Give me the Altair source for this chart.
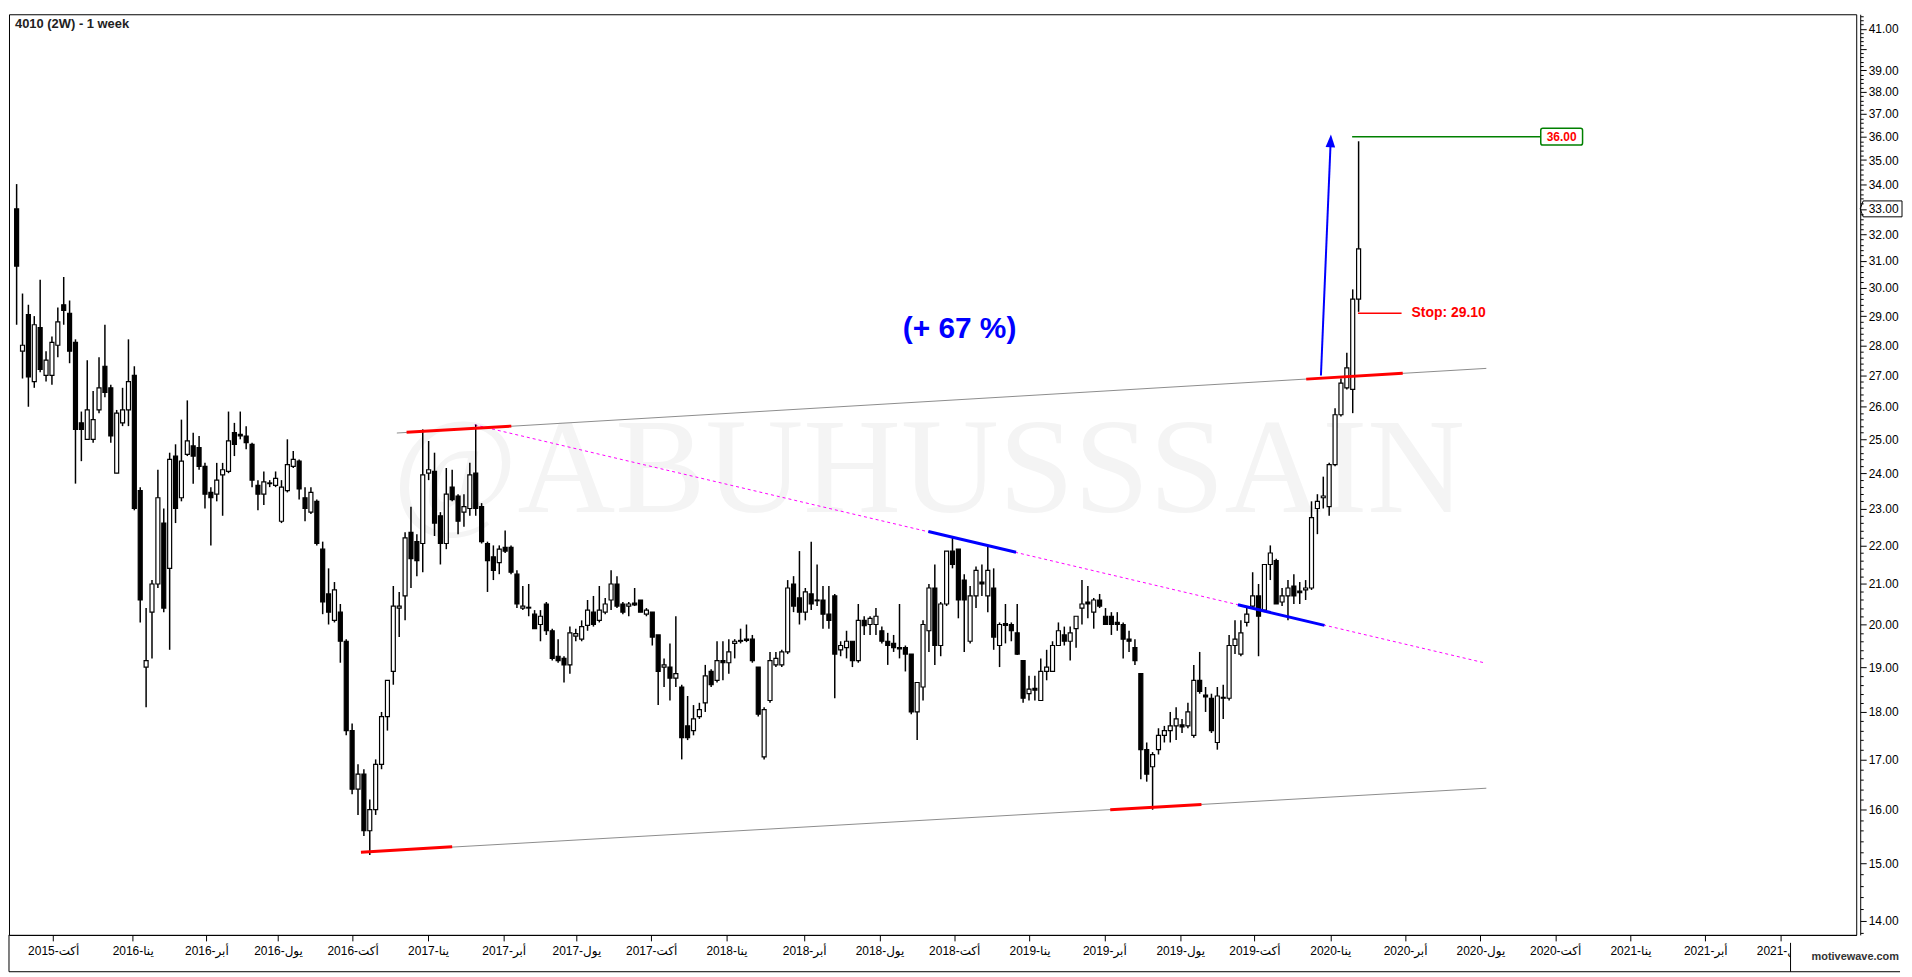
import json

import altair as alt
import pandas as pd

W = 1856
H = 925

# weekly candles
opens = [
    33.0, 27.8, 29.05, 26.8, 28.6, 27.0, 27.0, 28.0, 29.4, 29.1,
    28.1, 25.5, 25.0, 25.0, 25.9, 27.3, 26.6, 24.0, 25.5, 25.9,
    27.0, 23.5, 19.0, 20.3, 21.0, 22.6, 21.4, 24.5, 23.3, 24.55,
    24.8, 24.75, 24.2, 23.45, 23.4, 23.95, 24.05, 25.2, 25.15, 25.1,
    24.85, 23.65, 23.4, 23.7, 23.65, 22.65, 23.5, 24.2, 24.35, 23.3,
    22.9, 23.2, 21.9, 20.75, 20.1, 20.3, 19.6, 17.6, 16.4, 16.7,
    15.6, 16.0, 16.9, 17.9, 18.9, 20.4, 20.7, 22.35, 22.1, 22.05,
    24.0, 24.05, 22.8, 22.05, 23.6, 23.35, 22.9, 23.0, 24.0, 23.05,
    22.05, 21.7, 21.55, 21.95, 21.95, 21.25, 20.4, 20.4, 20.25, 20.0,
    20.5, 19.85, 19.25, 19.2, 19.05, 19.72, 19.65, 19.98, 20.3, 20.1,
    20.3, 20.6, 21.0, 20.5, 20.45, 20.52, 20.6, 20.25, 20.3, 19.75,
    19.0, 19.0, 18.75, 18.55, 17.7, 17.6, 17.9, 18.2, 18.9, 18.7,
    19.15, 19.1, 19.55, 19.6, 19.62, 19.65, 19.0, 17.05, 18.25, 19.05,
    19.05, 19.35, 21.0, 20.65, 20.3, 20.75, 20.6, 20.6, 20.25, 20.7,
    19.4, 19.45, 19.6, 19.15, 20.1, 20.0, 20.0, 19.85, 19.6, 19.55,
    19.42, 19.45, 19.3, 18.0, 18.55, 19.85, 20.9, 19.5, 20.5, 21.85,
    21.9, 21.1, 19.6, 20.7, 21.05, 20.7, 20.9, 19.5, 20.02, 20.0,
    19.8, 19.15, 18.4, 18.52, 18.25, 18.9, 18.9, 19.5, 19.75, 19.6,
    19.9, 20.4, 20.55, 20.3, 20.6, 20.2, 20.2, 20.05, 20.0, 19.65,
    19.45, 18.85, 17.2, 16.85, 17.2, 17.5, 17.6, 17.7, 17.72, 17.7,
    17.5, 18.7, 18.37, 18.3, 17.35, 18.3, 18.3, 19.5, 19.3, 20.05,
    20.45, 20.7, 20.35, 21.5, 21.6, 20.55, 20.7, 20.95, 20.82, 20.85,
    20.9, 23.0, 23.3, 23.05, 24.25, 25.75, 26.6, 26.55, 29.6,
]
highs = [
    34.0, 29.8, 29.4, 29.0, 30.3, 27.8, 28.3, 29.3, 30.4, 29.55,
    28.2, 25.85, 27.5, 26.5, 27.6, 28.7, 26.7, 25.9, 26.6, 28.2,
    27.3, 23.6, 20.4, 21.1, 24.1, 23.0, 24.6, 24.85, 25.6, 26.2,
    25.2, 25.1, 24.3, 23.6, 24.3, 24.3, 25.85, 25.5, 25.85, 25.4,
    24.9, 23.8, 24.05, 23.8, 24.05, 23.8, 25.0, 24.65, 24.4, 23.6,
    23.6, 23.25, 22.1, 21.4, 21.05, 20.5, 19.65, 17.75, 16.9, 16.8,
    16.2, 17.0, 18.0, 18.7, 20.95, 20.8, 22.35, 23.05, 22.3, 25.3,
    24.95, 24.6, 22.9, 24.15, 24.1, 23.4, 23.4, 24.3, 25.45, 23.15,
    22.1, 22.0, 22.0, 22.4, 22.0, 21.35, 20.95, 21.0, 20.35, 20.35,
    20.55, 19.9, 19.65, 19.25, 19.95, 19.9, 20.1, 20.6, 20.7, 20.95,
    20.65, 21.35, 21.2, 20.55, 20.55, 20.9, 20.6, 20.4, 20.3, 19.75,
    19.2, 19.55, 20.2, 18.6, 18.35, 18.15, 18.2, 19.05, 18.95, 19.6,
    19.6, 19.65, 19.65, 19.9, 20.0, 19.75, 19.0, 18.1, 19.35, 19.35,
    19.4, 21.1, 21.2, 21.85, 20.9, 22.1, 21.5, 20.95, 20.95, 20.75,
    19.6, 19.85, 19.6, 20.5, 20.2, 20.2, 20.4, 19.95, 19.8, 19.75,
    20.5, 19.5, 19.3, 18.65, 20.1, 21.0, 21.5, 20.55, 21.85, 22.2,
    21.9, 21.25, 20.95, 21.45, 21.5, 22.0, 21.4, 20.05, 20.5, 20.05,
    20.5, 19.15, 18.8, 18.8, 19.2, 19.4, 19.6, 20.05, 19.95, 19.95,
    20.2, 21.1, 20.95, 20.65, 20.75, 20.4, 20.3, 20.3, 20.05, 19.85,
    19.65, 18.85, 17.35, 17.15, 17.65, 17.7, 18.0, 18.1, 17.85, 18.2,
    19.05, 19.35, 18.55, 18.4, 18.55, 18.6, 19.75, 20.1, 20.1, 20.4,
    21.3, 21.0, 21.5, 22.0, 21.65, 20.9, 21.1, 21.25, 21.05, 21.1,
    23.2, 23.4, 23.9, 24.3, 25.95, 26.9, 27.75, 29.95, 35.8,
]
lows = [
    28.7, 26.9, 26.0, 26.6, 27.1, 26.8, 26.7, 27.6, 28.7, 27.4,
    23.7, 24.35, 25.0, 24.9, 25.8, 26.3, 24.9, 24.0, 25.4, 25.4,
    22.95, 20.05, 18.1, 19.2, 20.9, 20.3, 19.4, 22.6, 23.2, 24.5,
    23.7, 24.1, 23.0, 22.0, 23.2, 22.8, 24.0, 24.5, 25.0, 24.7,
    23.6, 22.95, 23.1, 23.6, 23.6, 22.6, 23.45, 24.15, 23.25, 22.65,
    22.85, 22.0, 20.25, 20.0, 20.05, 19.1, 17.5, 16.3, 15.9, 15.5,
    15.15, 15.9, 16.8, 17.6, 18.6, 19.7, 20.1, 20.9, 21.2, 21.3,
    23.8, 22.25, 21.5, 21.9, 23.2, 22.3, 22.5, 22.8, 22.8, 22.05,
    20.8, 21.1, 21.25, 21.8, 21.25, 20.4, 20.35, 20.2, 19.9, 19.6,
    19.75, 19.15, 19.1, 18.65, 18.85, 19.6, 19.6, 19.85, 19.95, 20.05,
    20.25, 20.35, 20.4, 20.25, 20.2, 20.45, 20.3, 20.2, 19.5, 18.15,
    18.55, 18.25, 18.55, 17.0, 17.4, 17.5, 17.85, 18.0, 18.55, 18.65,
    18.7, 18.85, 19.2, 19.55, 19.58, 19.1, 17.9, 17.0, 18.2, 19.0,
    19.0, 19.3, 20.3, 20.0, 20.1, 20.35, 20.45, 19.9, 19.9, 18.3,
    19.25, 19.2, 19.0, 19.1, 19.75, 19.75, 19.75, 19.55, 19.05, 19.35,
    19.2, 18.9, 17.95, 17.4, 18.25, 19.35, 19.05, 19.25, 20.45, 21.4,
    20.15, 19.35, 19.55, 20.4, 20.7, 20.3, 19.4, 19.0, 19.55, 19.6,
    19.28, 18.2, 18.25, 18.25, 18.25, 18.7, 18.9, 19.5, 19.5, 19.15,
    19.45, 20.0, 20.15, 19.9, 20.4, 20.0, 19.75, 19.85, 19.2, 19.35,
    19.05, 16.6, 16.55, 16.0, 17.1, 17.35, 17.35, 17.4, 17.55, 17.65,
    17.45, 18.4, 18.0, 17.55, 17.2, 17.85, 18.25, 19.3, 19.25, 19.95,
    20.4, 19.25, 20.3, 21.1, 20.5, 20.45, 20.1, 20.5, 20.5, 20.6,
    20.85, 22.3, 23.0, 22.8, 24.2, 25.7, 26.55, 25.8, 29.15,
]
closes = [
    30.8, 28.0, 26.95, 28.7, 27.2, 27.5, 28.1, 28.8, 29.2, 27.8,
    25.3, 25.3, 25.9, 25.6, 26.6, 26.45, 25.1, 25.8, 25.9, 26.8,
    23.0, 20.6, 19.15, 21.0, 23.3, 20.4, 24.4, 23.0, 24.35, 24.95,
    24.5, 24.2, 23.4, 23.3, 23.8, 24.1, 24.95, 24.85, 25.1, 24.9,
    23.8, 23.4, 23.75, 23.72, 23.85, 23.6, 24.25, 24.4, 23.55, 23.0,
    23.45, 22.05, 20.55, 20.3, 20.85, 19.6, 17.6, 16.4, 16.7, 15.6,
    16.0, 16.9, 17.9, 18.7, 20.45, 20.45, 22.2, 21.65, 21.6, 23.95,
    24.1, 22.6, 22.05, 23.4, 23.25, 22.65, 23.05, 23.95, 23.0, 22.1,
    21.6, 21.35, 21.9, 21.85, 21.3, 20.5, 20.45, 20.42, 19.9, 20.2,
    19.85, 19.2, 19.15, 19.05, 19.8, 19.78, 19.95, 20.35, 20.0, 20.35,
    20.5, 21.0, 20.45, 20.3, 20.5, 20.48, 20.3, 20.35, 19.7, 18.9,
    19.05, 18.75, 18.85, 17.45, 17.45, 17.85, 18.05, 18.8, 18.6, 19.15,
    19.1, 19.35, 19.6, 19.62, 19.65, 19.15, 17.95, 18.05, 19.15, 19.2,
    19.35, 20.9, 20.45, 20.3, 20.8, 20.5, 20.58, 20.25, 20.1, 19.3,
    19.5, 19.6, 19.15, 20.1, 19.97, 20.15, 20.2, 19.6, 19.5, 19.45,
    19.45, 19.3, 18.0, 18.65, 20.0, 20.9, 19.5, 20.5, 21.85, 21.5,
    20.6, 20.6, 20.7, 21.35, 21.0, 21.35, 19.7, 20.0, 19.98, 19.85,
    19.3, 18.3, 18.5, 18.48, 18.9, 19.0, 19.5, 19.85, 19.6, 19.8,
    20.2, 20.5, 20.5, 20.6, 20.45, 20.0, 20.0, 20.0, 19.65, 19.6,
    19.15, 17.2, 16.7, 17.1, 17.5, 17.6, 17.7, 17.85, 17.68, 18.0,
    18.7, 18.45, 18.33, 17.6, 18.35, 18.32, 19.5, 19.65, 19.8, 20.25,
    20.7, 20.2, 21.5, 21.8, 20.5, 20.7, 20.9, 20.7, 20.78, 20.9,
    22.75, 23.2, 23.35, 24.25, 25.75, 26.75, 27.25, 29.6, 31.45,
]

# quarter ticks, positions in bar units
tick_pos = [6.22, 19.73, 32.24, 44.41, 57.08, 69.92, 82.76, 95.1, 107.8, 120.6,
            133.8, 146.6, 159.3, 172.1, 184.8, 197.7, 210.3, 223.2, 235.9, 248.7,
            261.4, 274.2, 286.9, 299.7]
tick_labels = ["أكت-2015", "ينا-2016", "أبر-2016", "يول-2016", "أكت-2016", "ينا-2017",
               "أبر-2017", "يول-2017", "أكت-2017", "ينا-2018", "أبر-2018", "يول-2018",
               "أكت-2018", "ينا-2019", "أبر-2019", "يول-2019", "أكت-2019", "ينا-2020",
               "أبر-2020", "يول-2020", "أكت-2020", "ينا-2021", "أبر-2021", "يول-2021"]
price_ticks = [round(13.8 + 0.2 * k, 1) for k in range(140)]

# drawn lines: x, y, x2, y2
channel = [[64.6, 25.19, 249.7, 27.23], [58.5, 15.20, 249.7, 16.42]]
red_marks = [[66.25, 25.21, 84.05, 25.40], [58.5, 15.20, 74.0, 15.30],
             [185.8, 16.00, 201.3, 16.10], [219.1, 26.88, 235.5, 27.07]]
blue_marks = [[154.9, 22.37, 169.8, 21.82], [207.5, 20.48, 222.2, 19.98]]
trend = [[77.8, 25.44, 249.3, 19.10]]
arrow = [[221.6, 27.0, 223.22, 35.6]]
target_line = [[226.9, 36.0, 259.0, 36.0]]
stop_line = [[227.9, 29.1, 235.3, 29.1]]

target_price = 36.0
stop_price = 29.1
last_tag = 33.0

SANS = "Liberation Sans, DejaVu Sans"
xscale = alt.Scale(domain=[-0.45, 311.7], nice=False, zero=False)
yscale = alt.Scale(type="log", domain=[13.76, 41.72], nice=False, zero=False)

x_axis = alt.Axis(
    values=tick_pos,
    labelExpr=f"{json.dumps(tick_labels, ensure_ascii=False)}[indexof({json.dumps(tick_pos)}, datum.value)]",
    title=None, grid=False, tickSize=6, tickColor="black", domainColor="black",
    labelFont=SANS, labelFontSize=12, labelColor="black", labelPadding=5,
    labelOverlap=False,
)
y_axis = alt.Axis(
    orient="right", values=price_ticks, title=None, grid=False, offset=4,
    labelExpr="datum.value % 1 === 0 && datum.value !== 40 ? format(datum.value, '.2f') : ''",
    tickSize={"condition": {"test": "datum.value % 1 === 0", "value": 6}, "value": 3},
    tickColor="black", domainColor="black", labelFont=SANS, labelFontSize=12,
    labelColor="black", labelPadding=2, labelOverlap=False, labelFlush=False,
)


def X(field):
    return alt.X(f"{field}:Q", scale=xscale, axis=x_axis)


def Y(field):
    return alt.Y(f"{field}:Q", scale=yscale, axis=y_axis)


def segs(rows, **style):
    df = pd.DataFrame(rows, columns=["x", "y", "x2", "y2"])
    return alt.Chart(df).mark_rule(**style).encode(
        x=X("x"), y=Y("y"), x2="x2:Q", y2="y2:Q"
    )


def label(txt, x, y, **style):
    df = pd.DataFrame({"t": [txt], "x": [x], "y": [y]})
    return alt.Chart(df).mark_text(**style).encode(x=X("x"), y=Y("y"), text="t:N")


df = pd.DataFrame({"open": opens, "high": highs, "low": lows, "close": closes})
df["i"] = range(len(df))

watermark = label("@ABUHUSSSAIN", 155, 22.9, font="Liberation Serif", fontSize=136,
                  color="#f4f4f4", baseline="alphabetic", align="center")

wicks = alt.Chart(df).mark_rule(color="black", strokeWidth=1.5).encode(
    x=X("i"), y=Y("low"), y2="high:Q"
)
bodies = alt.Chart(df).mark_bar(size=4, stroke="black", strokeWidth=1.2).encode(
    x=X("i"),
    y=Y("open"),
    y2="close:Q",
    fill=alt.condition("datum.close >= datum.open", alt.value("white"), alt.value("black")),
)

arrow_head = alt.Chart(pd.DataFrame({"x": [223.24], "y": [35.75]})).mark_point(
    shape="M0,-1L0.6,0.6L-0.6,0.6Z", size=256, filled=True, color="#0000ff",
    opacity=1, angle=2.4,
).encode(x=X("x"), y=Y("y"))

target_box = alt.Chart(pd.DataFrame({"x": [262.5], "y": [target_price]})).mark_point(
    shape="M-0.9,-0.4Q-1,-0.4 -1,-0.3L-1,0.3Q-1,0.4 -0.9,0.4L0.9,0.4Q1,0.4 1,0.3L1,-0.3Q1,-0.4 0.9,-0.4Z",
    size=1764, filled=True, fill="white", stroke="#008000", strokeWidth=1.5, opacity=1,
).encode(x=X("x"), y=Y("y"))

tag_box = alt.Chart(pd.DataFrame({"y": [last_tag]})).mark_point(
    shape="M-1.1,0L-0.95,-0.4L1,-0.4L1,0.4L-0.95,0.4Z", size=1600,
    filled=False, color="black", strokeWidth=1, opacity=1,
).encode(x=alt.value(W + 26), y=Y("y"))

title = alt.Chart(pd.DataFrame({"t": ["4010 (2W) - 1 week"]})).mark_text(
    font=SANS, fontSize=13, fontWeight="bold", color="#222222", align="left",
    baseline="middle",
).encode(x=alt.value(6), y=alt.value(10), text="t:N")

# bottom label band frame and the corner brand
band_bottom = alt.Chart(pd.DataFrame({"t": [0]})).mark_rule(color="black", strokeWidth=1).encode(
    x=alt.value(0), x2=alt.value(W + 44), y=alt.value(H + 37)
)
band_left = alt.Chart(pd.DataFrame({"t": [0]})).mark_rule(color="black", strokeWidth=1).encode(
    x=alt.value(0), y=alt.value(H), y2=alt.value(H + 37)
)
brand_bg = alt.Chart(pd.DataFrame({"t": [0]})).mark_point(
    shape="M-1,-0.18L1,-0.18L1,0.18L-1,0.18Z", size=12100, filled=True, color="white",
    opacity=1,
).encode(x=alt.value(W - 11), y=alt.value(H + 21))
brand_sep = alt.Chart(pd.DataFrame({"t": [0]})).mark_rule(color="black", strokeWidth=1).encode(
    x=alt.value(W - 66), y=alt.value(H + 8), y2=alt.value(H + 37)
)
brand = alt.Chart(pd.DataFrame({"t": ["motivewave.com"]})).mark_text(
    font=SANS, fontSize=11, fontWeight="bold", color="#333333", align="right",
    baseline="middle",
).encode(x=alt.value(W + 43), y=alt.value(H + 22), text="t:N")

chart = alt.layer(
    watermark,
    segs(channel, color="#8c8c8c", strokeWidth=1),
    segs(trend, color="#ff00ff", strokeWidth=1, strokeDash=[3, 3]),
    wicks,
    bodies,
    segs(red_marks, color="#ff0000", strokeWidth=3),
    segs(blue_marks, color="#0000ff", strokeWidth=3),
    segs(arrow, color="#0000ff", strokeWidth=2),
    arrow_head,
    segs(target_line, color="#008000", strokeWidth=1.5),
    target_box,
    label("36.00", 262.5, target_price, font=SANS, fontSize=12, fontWeight="bold",
          color="#ff0000", align="center", baseline="middle"),
    segs(stop_line, color="#ff0000", strokeWidth=1.5),
    label("Stop: 29.10", 237.0, stop_price, font=SANS, fontSize=14, fontWeight="bold",
          color="#ff0000", align="left", baseline="middle"),
    label("(+ 67 %)", 160.2, 28.56, font=SANS, fontSize=30, fontWeight="bold",
          color="#0000ff", align="center", baseline="middle"),
    tag_box,
    title,
    band_bottom,
    band_left,
    brand_bg,
    brand_sep,
    brand,
).properties(
    width=W, height=H, padding=0
).configure_view(
    stroke="black", strokeWidth=1
)

chart.save("out.html", embed_options={"renderer": "svg", "actions": False})
